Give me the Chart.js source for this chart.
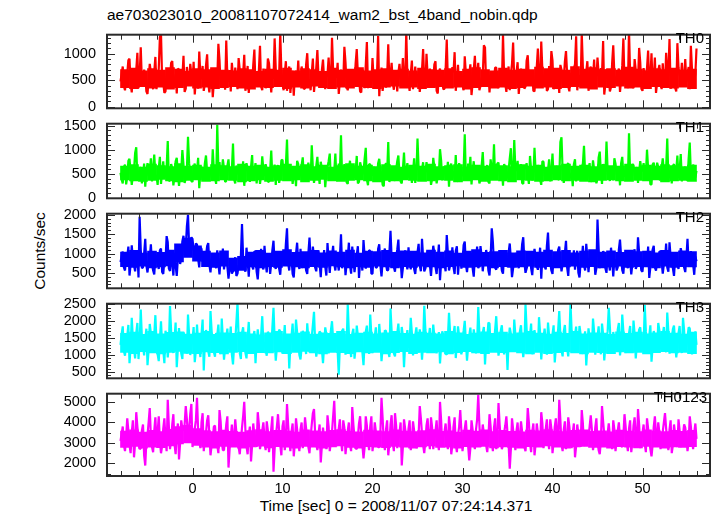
<!DOCTYPE html>
<html lang="en">
<head>
  <meta charset="UTF-8">
  <title>ae703023010 WAM2 light curve</title>
  <script src="https://cdn.jsdelivr.net/npm/chart.js"></script>
  <style>
    body { margin: 0; background: #fff; font-family: "Liberation Sans", Arial, sans-serif; color: #000; }
    #wrap { position: relative; width: 717px; height: 516px; overflow: hidden; }
    canvas { position: absolute; left: 0; }
    .txt { position: absolute; font-size: 15.5px; line-height: 18px; white-space: nowrap; }
    .band { text-align: right; font-size: 15px; }
  </style>
</head>
<body>
  <div id="wrap">
    <div class="txt" style="left:107px; top:6px;">ae703023010_20081107072414_wam2_bst_4band_nobin.qdp</div>
    <div class="txt" style="left:40px; top:251px; transform: translate(-50%, -50%) rotate(-90deg);">Counts/sec</div>
    <div class="txt" style="left:396px; top:497px; transform: translateX(-50%);">Time [sec] 0 = 2008/11/07 07:24:14.371</div>
  </div>

  <script>
    // time of first bin and bin width (s)
    const T0 = -8;
    const DT = 0.125;
    // 1 s bins for the dense core of each band (centre of first bin)
    const TB0 = -7.5;
    const TBW = 1;

    const bands = ['TH0', 'TH1', 'TH2', 'TH3', 'TH0123'];
    const colors = ['#ff0000', '#00ff00', '#0000ff', '#00ffff', '#ff00ff'];

    const th0 = [
      480,620,760,390,310,550,620,880,905,430,270,640,540,350,690,1020,
      350,580,1120,460,420,700,580,290,240,510,810,650,470,330,660,940,
      330,560,720,1310,1380,520,450,260,290,680,610,400,530,830,860,470,
      380,610,250,720,700,390,490,560,960,280,340,750,570,450,810,620,
      410,850,230,500,650,340,1040,590,520,770,300,430,780,990,440,270,
      600,720,180,460,730,560,510,1190,880,410,360,640,620,320,1250,540,
      470,690,290,830,560,380,740,510,330,920,690,440,420,610,980,300,
      510,770,260,530,640,390,790,1080,380,470,550,690,1150,380,310,720,
      600,350,450,910,820,540,270,620,530,1290,710,430,390,580,1400,660,
      480,310,620,860,300,540,760,260,520,680,210,590,680,470,870,400,
      440,760,590,330,350,800,1010,520,490,310,640,910,280,540,730,1070,
      560,360,420,690,890,500,330,560,610,930,500,440,1300,690,370,580,
      550,830,240,470,700,610,460,1130,840,380,310,590,590,410,680,490,
      400,820,1090,610,520,290,270,700,650,350,780,1220,350,660,570,420,
      920,510,430,640,610,1340,200,560,740,300,500,690,360,570,1180,460,
      580,830,450,320,670,580,290,640,810,510,520,920,390,470,1420,590,
      470,300,620,870,330,510,760,430,540,650,280,470,690,1090,450,360,
      1000,580,380,720,600,360,510,800,860,300,250,650,720,540,480,330,
      340,700,1270,480,560,360,410,750,650,1030,300,520,790,390,530,640,
      440,310,950,620,370,500,610,800,220,440,700,960,500,590,830,310,
      390,540,580,1160,1120,430,460,670,270,580,640,390,520,740,740,460,
      350,690,600,410,1360,570,430,280,560,760,310,620,810,1210,490,380,
      660,840,240,500,720,610,530,340,380,870,970,540,450,690,600,300,
      290,650,750,1100,510,410,1230,690,400,520,680,300,330,770,560,1050,
      870,330,450,640,610,560,260,790,700,420,520,850,1050,610,380,290,
      640,510,470,720,800,1330,310,560,590,400,1390,740,420,510,660,860,
      300,590,760,420,540,890,410,510,930,620,480,730,620,1240,230,420,
      710,560,560,290,370,820,1160,600,500,430,650,720,280,510,780,1290,
      440,690,600,350,1440,620,520,410,350,900,690,480,470,1110,840,340,
      300,730,580,620,730,1060,410,540,1010,380,540,930,260,450,680,790,
      500,330,820,480,370,1020,620,650,1280,340,450,630,560,360,290,1200,
      740,590,520,830,410,560,900,460,600,750,330,1150,700,410,480,620,
      1100
    ];
    const th1 = [
      520,380,300,640,690,280,430,770,810,520,270,460,580,930,1050,410,
      380,590,640,300,470,710,230,560,720,450,550,820,340,620,900,470,
      460,270,610,850,290,530,760,410,500,640,1180,350,360,700,620,260,
      440,760,830,510,250,470,570,990,680,310,400,580,1270,720,490,350,
      330,620,710,430,540,830,200,510,650,380,470,720,880,540,360,610,
      590,420,1010,560,420,290,1520,610,740,450,520,800,610,330,350,660,
      800,470,460,590,1130,380,300,670,570,480,690,350,410,760,250,510,
      720,600,480,330,640,890,370,560,720,300,540,650,290,470,860,590,
      450,700,600,340,330,560,980,410,510,690,270,620,680,310,430,780,
      790,450,560,680,1210,400,380,610,620,290,470,560,240,770,700,420,
      530,680,840,400,360,520,590,730,440,380,1090,620,310,470,660,850,
      500,290,750,600,400,640,220,500,630,760,920,370,470,550,560,920,
      350,470,710,560,1300,410,480,700,600,320,290,610,770,450,520,680,
      410,560,870,300,330,740,640,490,550,810,1040,380,260,700,690,520,
      460,640,580,350,380,720,810,560,510,270,240,660,720,510,1160,330,
      430,600,610,470,350,590,760,880,490,340,300,590,940,460,570,720,
      420,530,670,310,530,820,310,490,1230,620,460,370,590,740,380,520,
      740,560,500,680,270,390,830,640,610,300,440,500,1010,780,360,610,
      650,420,480,750,230,660,710,510,560,400,890,370,340,720,620,460,
      470,580,1320,390,390,710,540,850,280,560,760,420,510,640,600,300,
      370,660,950,470,450,610,680,330,300,800,590,520,1110,380,420,710,
      730,460,520,600,250,700,640,390,480,580,820,1030,350,510,1200,600,
      560,770,410,520,700,310,290,650,610,720,480,290,870,590,360,460,
      1040,530,530,680,630,380,270,760,750,450,460,610,580,800,340,560,
      920,400,500,610,660,370,400,1160,1260,550,310,480,570,680,720,410,
      450,520,240,700,800,340,540,620,380,580,640,710,1080,510,470,380,
      610,720,330,460,780,590,520,300,420,840,960,520,290,700,650,480,
      1170,570,480,350,560,640,360,820,710,480,500,600,260,720,850,470,
      440,610,590,370,1340,500,370,690,680,460,510,640,310,540,760,590,
      550,720,420,480,1000,610,600,280,280,690,730,520,490,730,640,380,
      380,620,820,550,530,610,1230,410,450,580,300,660,700,520,570,880,
      410,590,910,340,520,610,640,470,350,810,1150,490,480,690,600,420,
      560
    ];
    const th2 = [
      780,920,1050,640,560,870,920,1180,430,710,1210,850,690,540,850,1020,
      380,1950,1100,620,640,1000,1380,690,510,780,890,1240,720,560,460,910,
      960,740,600,1080,1130,520,470,820,810,1450,1290,610,550,980,740,430,
      1020,690,420,870,1180,730,870,1320,1460,950,1150,1700,2000,1180,1250,1420,
      1380,1090,980,1260,1230,860,640,1150,1120,780,860,1010,940,1190,1270,700,
      510,860,830,980,700,620,1080,740,460,880,760,1130,590,820,1010,660,
      350,620,720,480,540,800,900,420,480,700,620,940,1760,890,650,530,
      1150,820,400,960,770,680,590,1060,1040,530,330,760,860,1120,690,590,
      1200,760,510,980,930,470,740,1090,1330,720,600,950,820,610,450,880,
      1060,730,700,1250,1650,760,560,990,880,470,380,840,990,1280,760,600,
      1120,690,630,970,850,560,470,1010,1410,820,700,1180,920,640,540,880,
      1080,740,390,910,800,1090,660,430,1270,820,500,890,940,1200,730,560,
      1030,800,560,910,1500,620,780,1000,440,740,890,1280,690,480,1180,870,
      520,770,960,1190,370,830,820,560,1350,930,610,800,740,1090,1060,480,
      480,1010,870,630,650,1120,1240,700,410,790,990,1130,720,560,580,1010,
      1590,870,800,650,530,920,1100,1360,680,840,360,620,910,1080,760,590,
      1160,810,590,1040,840,600,470,780,1030,1250,690,540,1380,880,540,610,
      760,1060,920,700,420,830,1200,1000,650,470,870,1230,310,760,990,880,
      720,540,1480,1010,560,690,830,1160,640,470,1070,1190,450,820,900,610,
      760,1220,1310,720,520,790,690,880,1010,620,400,920,860,1180,620,700,
      1190,930,540,820,780,1090,950,560,430,910,1650,1300,700,630,580,850,
      1040,770,820,560,480,1010,910,700,660,1020,1260,850,390,620,770,980,
      1000,730,620,880,850,1240,1420,780,500,610,730,1020,960,620,440,860,
      1120,930,680,580,800,1150,350,920,1030,660,590,1200,1540,870,750,560,
      470,930,890,660,660,1090,1180,830,540,720,810,1010,1330,640,420,940,
      960,700,710,1080,580,910,1070,500,380,760,850,1200,690,560,1250,910,
      520,860,940,700,760,1030,450,620,1880,1130,620,880,870,1060,1010,620,
      500,980,740,560,1150,860,410,840,820,560,650,1110,1360,920,570,480,
      880,1050,700,620,1090,830,460,720,930,1110,600,680,1420,1020,790,560,
      530,880,1020,760,680,1180,370,650,900,1100,1200,640,560,790,770,1050,
      1050,780,480,720,840,1260,640,530,1290,910,710,620,420,860,990,720,
      600,830,1140,990,760,640,520,880,1380,720,680,1060,890,720,450,920,
      800
    ];
    const th3 = [
      1300,1620,1850,1120,980,1400,1560,1890,760,1240,2100,1470,1180,900,1640,1950,
      880,1350,2350,1530,1260,990,1470,1780,700,1150,1920,1640,1090,1380,1600,2180,
      1380,1020,820,1460,2000,1280,1150,760,1720,1480,930,1320,2450,1710,1240,1060,
      1510,1960,640,1180,1800,1400,1050,880,1680,1550,1330,1040,2200,1590,1000,1270,
      1460,1830,790,1140,1900,1350,1210,940,1620,2050,540,1360,1740,1520,1120,950,
      2300,1710,1380,1090,950,1650,1590,1900,1280,1030,2080,1460,860,1220,1500,1780,
      1180,1440,1840,1020,720,1290,1430,1970,2550,1530,1060,880,1650,1820,1300,1070,
      900,1510,1980,1260,1250,1080,1540,1710,760,1380,1760,1430,1120,1600,2150,1340,
      1370,1150,980,1690,1610,1260,1200,1820,2400,1490,830,1210,1480,1750,1700,1230,
      1040,1450,1890,1150,1310,1570,600,1290,1560,1930,1150,1340,2050,1670,1400,1000,
      870,1220,1720,1560,1260,1030,1940,1470,1080,1330,1530,1890,2280,1400,950,1160,
      1420,1700,1650,1180,760,1280,1820,1600,1230,1050,1470,1720,2000,1460,1100,1380,
      1590,1130,420,1290,1340,1720,1780,1430,1010,1290,2500,1650,1250,940,1630,1780,
      890,1210,1870,1570,1160,1300,1440,1090,700,1380,1690,1870,1320,1030,2200,1560,
      1060,1300,1550,1820,1230,1110,1920,1480,820,1200,1400,1730,1710,1350,1120,940,
      2380,1710,1290,1050,960,1420,1640,1930,1370,1180,1830,1560,640,1280,1480,1740,
      1210,1430,2100,1660,990,1250,1590,1820,1350,1070,1760,1480,860,1360,2460,1750,
      1280,1130,1520,1800,1070,1370,1900,1540,1190,1050,1440,1680,750,1260,1700,1590,
      1380,1040,1010,1520,2250,1640,1270,1100,1630,1860,910,1310,1850,1570,1200,1020,
      1480,1720,2010,1390,830,1230,1570,1810,1330,1100,1760,1500,1050,1380,2420,1660,
      1290,1080,1660,1830,720,1350,1500,1960,1930,1270,1140,1400,1400,1750,2150,1500,
      980,1190,1720,1880,1240,1020,1560,1390,560,1420,1810,1630,1360,1110,2050,1600,
      1110,1350,1450,1700,1880,1310,940,1220,2500,1760,1310,1050,1590,1930,1020,1300,
      1740,1490,1260,1150,2120,1650,870,1290,1520,1780,1390,1010,1960,1570,1180,1260,
      1620,1880,780,1210,1430,1750,2300,1560,1150,960,1700,1890,1330,1200,960,1490,
      2550,1720,1270,1080,1580,1840,1060,1320,1860,1620,1220,1030,1490,1700,690,1250,
      1790,1500,1350,1140,2080,1690,1010,1290,1540,1850,1290,1020,1930,1610,840,1240,
      1470,1700,2400,1830,1160,1040,1680,1490,1300,1110,1760,1950,990,1280,2200,1700,
      1400,1130,1070,1510,1640,1860,1240,1080,2020,1610,900,1300,1510,1750,1820,1410,
      1130,1290,2480,1700,1360,1100,1570,1880,800,1230,1710,1520,1280,1150,1950,1730,
      1170,1430,1600,1830,1340,1080,2260,1690,1040,1310,1490,1770,1870,1360,930,1210,
      1650,1860,1250,1060,2100,1720,1110,1280,1530,1820,1790,1380,1020,1230,1460,1700,
      1300
    ];
    const th0123 = [
      3100,3450,3800,2900,2600,3300,4200,3600,2900,2500,3500,4100,2300,3000,4500,3800,
      3200,2700,2750,3600,3900,2400,1900,3100,3400,4000,4700,3300,2800,2550,3600,4250,
      3000,3500,4300,3100,2500,2850,3700,4200,3200,2600,5100,3800,2700,3150,3900,4400,
      2950,2450,3450,3950,2200,3000,4100,3700,3600,3900,4800,4150,3300,3650,4400,4900,
      2800,3300,3700,4100,5200,3600,3100,2750,4000,4450,2600,3200,3500,4100,4350,3400,
      2400,2900,3250,3800,3850,3100,2900,2500,4600,4050,3050,2650,2650,3300,3900,4300,
      1800,2700,3300,3900,2950,3300,4150,3500,3500,2800,2450,3100,3750,4300,5000,3650,
      2850,2450,3400,3800,2100,2900,3950,3400,3150,2800,4500,3900,2700,3050,3600,4000,
      3250,2650,4050,3600,2550,3000,3700,4300,1600,2700,3350,3800,4400,3600,2900,2400,
      3800,4100,2650,3200,4900,3900,3100,2600,3550,3950,2350,3000,4200,3650,3000,2600,
      3650,4000,2750,3100,4250,3700,3200,2800,2500,3300,3900,4450,4650,3500,2950,2650,
      3450,3900,2050,2850,3750,3250,3300,2700,4350,3800,2600,3050,3550,4300,5050,3500,
      2850,3350,3700,4150,3150,2600,4100,3750,2450,3000,3600,4000,2900,2600,4750,3900,
      3250,2750,2700,3300,3950,4300,3400,2900,2250,2800,4300,3850,3050,2650,3800,4300,
      2600,3100,4000,3550,3350,2800,2800,3500,5200,4200,3100,2650,3650,4100,2400,2950,
      3900,4350,3000,2600,4450,3850,2750,3200,3500,4000,1900,2800,4150,3700,3300,2900,
      3700,4100,2650,3050,4050,3600,3150,2750,2900,3400,4800,4200,3450,2900,2500,3100,
      3850,4200,3200,2700,4250,3750,2700,3150,3600,4100,3050,2650,5000,4100,2850,3300,
      3550,3950,3100,2700,4300,3750,2450,2900,3800,4250,2950,2550,3350,3800,4600,3600,
      2600,3100,3700,4100,3250,2850,2150,2750,4100,3650,3000,2700,3650,4150,5350,3900,
      2800,3200,3900,3450,3300,2900,2550,3200,4400,3800,3050,2600,3750,4200,2700,3150,
      4950,3900,3200,2700,2900,3500,3850,4300,3450,2900,1750,2700,4200,3650,3100,2650,
      3600,4000,2850,3300,4050,3550,3350,2800,2600,3350,4700,4000,3000,2550,3550,3950,
      2400,2950,3950,3500,3250,2850,4500,3950,2750,3150,3700,4150,3150,2700,4150,3700,
      2500,3050,3800,4200,3400,2850,5100,4100,2950,2600,3650,4050,2700,3150,4250,3800,
      3100,2750,3500,3950,2300,2850,3900,3450,3200,2800,4600,3950,2850,3300,3550,3100,
      3300,3800,4350,3650,2650,3050,3750,4200,3050,2650,2450,3100,4800,4050,3400,2850,
      2900,3450,3950,3350,3150,2700,4100,3650,2600,3100,3600,4000,3250,2850,2800,3350,
      4400,3800,3000,2600,3700,4100,2550,3000,3850,4250,3350,2850,4650,3900,2750,3200,
      3500,3900,2950,2550,4200,3700,3100,2700,2350,2900,3800,4300,3450,3000,4000,3500,
      2700,3150,3550,4000,4450,3700,3050,2650,3650,4100,2500,2900,3900,3450,3200,2800,
      4150,3600,2800,3250,3400,3900,3750,3300,2600,3050,4300,3800,3100,2700,3500,3950,
      3200
    ];
    const series = [th0, th1, th2, th3, th0123];

    // solid core of each band, read per 1 s bin (lower / upper edge)
    const core0Lo = [
      360,340,380,350,370,330,360,390,350,370,340,360,380,350,330,370,
      360,380,340,370,350,390,360,340,370,350,380,360,340,370,390,350,
      370,340,360,380,350,370,330,360,380,350,370,340,360,390,350,370,
      340,360,380,350,330,370,360,390,350,370,340,380,360,350,370,340
    ];
    const core0Hi = [
      700,730,680,720,690,740,710,670,720,700,740,690,680,720,700,670,
      710,690,730,680,720,700,670,730,690,710,740,680,700,720,690,710,
      680,730,700,690,720,670,710,740,700,680,730,690,710,700,750,720,
      730,690,760,710,740,700,720,690,750,710,680,720,700,730,690,710
    ];
    const core1Lo = [
      370,350,340,360,380,350,330,360,370,340,350,370,360,330,350,370,
      340,360,350,370,330,360,380,350,340,360,370,350,330,360,350,370,
      360,340,350,370,360,330,350,370,340,360,350,330,370,360,340,350,
      370,350,360,340,330,360,370,350,340,360,350,370,330,350,360,340
    ];
    const core1Hi = [
      660,690,640,700,670,650,710,660,680,640,690,670,650,700,660,680,
      640,670,700,660,690,650,680,640,670,710,660,680,650,690,670,640,
      680,660,700,650,670,690,640,680,660,700,670,650,690,660,680,640,
      670,700,660,680,650,690,670,660,700,640,680,660,690,670,650,680
    ];
    const core2Lo = [
      660,640,670,630,650,680,780,900,800,660,640,670,540,560,650,630,
      660,640,670,650,630,660,640,680,650,630,660,640,670,650,630,660,
      640,670,650,630,660,680,640,650,670,630,660,640,650,670,640,660,
      630,650,670,640,660,630,650,670,640,660,650,630,670,640,660,650
    ];
    const core2Hi = [
      1040,1080,1010,1060,1030,1090,1250,1400,1200,1060,1020,1070,880,930,1040,1080,
      1010,1060,1100,1030,1050,1080,1020,1070,1040,1090,1010,1060,1050,1080,1030,1070,
      1060,1020,1090,1040,1070,1010,1060,1100,1030,1050,1080,1020,1070,1060,1040,1090,
      1050,1080,1020,1060,1100,1040,1070,1030,1090,1050,1060,1020,1080,1040,1070,1050
    ];
    const core3Lo = [
      1080,1040,1100,1060,1030,1080,1110,1050,1040,1090,1070,1030,1080,1100,1040,1070,
      1060,1090,1040,1080,1110,1060,1030,1080,1070,1040,1090,1060,1080,1030,1070,1100,
      1040,1080,1060,1090,1030,1070,1100,1060,1040,1080,1070,1090,1060,1030,1080,1040,
      1070,1100,1060,1030,1080,1070,1040,1090,1060,1080,1030,1070,1100,1060,1080,1040
    ];
    const core3Hi = [
      1640,1680,1610,1700,1630,1670,1690,1620,1650,1700,1610,1660,1640,1680,1630,1600,
      1660,1700,1630,1650,1690,1620,1660,1640,1700,1610,1650,1680,1630,1660,1700,1640,
      1620,1680,1650,1630,1700,1660,1610,1650,1690,1640,1680,1630,1660,1700,1650,1620,
      1680,1640,1700,1630,1660,1650,1610,1690,1640,1680,1630,1660,1700,1650,1620,1680
    ];
    const core4Lo = [
      2780,2830,2740,2800,2770,2850,2950,3000,2880,2800,2750,2830,2790,2740,2810,2840,
      2760,2820,2790,2740,2830,2800,2750,2810,2850,2780,2740,2820,2800,2770,2830,2790,
      2750,2810,2850,2780,2800,2740,2820,2790,2830,2760,2810,2780,2740,2820,2800,2850,
      2790,2750,2810,2830,2780,2800,2740,2820,2790,2760,2830,2800,2750,2810,2780,2820
    ];
    const core4Hi = [
      3580,3640,3530,3610,3560,3660,3800,3860,3700,3600,3550,3630,3570,3530,3600,3650,
      3560,3620,3580,3530,3640,3590,3550,3610,3650,3570,3540,3630,3590,3560,3640,3580,
      3550,3600,3650,3570,3590,3530,3630,3580,3640,3560,3610,3570,3540,3630,3590,3650,
      3580,3550,3610,3640,3570,3590,3540,3630,3580,3560,3640,3590,3550,3610,3570,3620
    ];
    const coreLo = [core0Lo, core1Lo, core2Lo, core3Lo, core4Lo];
    const coreHi = [core0Hi, core1Hi, core2Hi, core3Hi, core4Hi];

    // axes
    const xTicks = [0, 10, 20, 30, 40, 50];
    const yMin = [-30, -10, 100, 310, 1390];
    const yMax = [1360, 1540, 2030, 2520, 5400];
    const yTicks = [
      [0, 500, 1000],
      [0, 500, 1000, 1500],
      [500, 1000, 1500, 2000],
      [500, 1000, 1500, 2000, 2500],
      [2000, 3000, 4000, 5000]
    ];
    const yMinor = [100, 100, 100, 100, 500];

    const panelTop = [27, 116, 206, 296, 386];
    const panelH = [89, 90, 90, 90, 90];
    const PAD = 12;

    Chart.defaults.font.family = '"Liberation Sans", Arial, sans-serif';
    Chart.defaults.font.size = 14.5;
    Chart.defaults.color = '#000';

    // frame + inward tick marks like qdp
    const panelFrame = {
      id: 'panelFrame',
      afterDatasetsDraw(chart, args, opts) {
        const { ctx, chartArea: a, scales: { x, y } } = chart;
        ctx.save();
        ctx.strokeStyle = '#2a2a2a';
        ctx.lineWidth = 1;
        ctx.beginPath();
        for (let t = -8; t <= 56; t += 2) {
          const px = Math.round(x.getPixelForValue(t)) + 0.5;
          const len = t % 10 === 0 ? 8 : 5;
          ctx.moveTo(px, a.top); ctx.lineTo(px, a.top + len);
          ctx.moveTo(px, a.bottom); ctx.lineTo(px, a.bottom - len);
        }
        for (let v = Math.ceil(y.min / opts.minor) * opts.minor; v <= y.max; v += opts.minor) {
          const py = Math.round(y.getPixelForValue(v)) + 0.5;
          const len = opts.major.includes(v) ? 8 : 4;
          ctx.moveTo(a.left, py); ctx.lineTo(a.left + len, py);
          ctx.moveTo(a.right, py); ctx.lineTo(a.right - len, py);
        }
        ctx.stroke();
        ctx.lineWidth = 2;
        ctx.strokeRect(a.left, a.top, a.right - a.left, a.bottom - a.top);
        ctx.restore();
      }
    };

    const wrap = document.getElementById('wrap');

    series.forEach((vals, k) => {
      const last = k === series.length - 1;
      const cv = document.createElement('canvas');
      cv.width = 717;
      cv.height = panelH[k] + PAD + (last ? 40 : PAD);
      cv.style.top = (panelTop[k] - PAD) + 'px';
      wrap.appendChild(cv);

      const lab = document.createElement('div');
      lab.className = 'txt band';
      lab.textContent = bands[k];
      lab.style.top = (panelTop[k] + 2) + 'px';
      lab.style.right = (last ? 10 : 13) + 'px';
      wrap.appendChild(lab);

      new Chart(cv, {
        type: 'line',
        data: {
          datasets: [{
            label: bands[k],
            data: vals.map((v, i) => ({ x: T0 + i * DT, y: v })),
            borderColor: colors[k],
            borderWidth: 2.2,
            borderJoinStyle: 'bevel',
            pointRadius: 0,
            tension: 0,
            fill: false,
            order: 1
          }, {
            type: 'bar',
            label: bands[k] + ' core',
            data: coreLo[k].map((lo, j) => ({ x: TB0 + j * TBW, y: [lo, coreHi[k][j]] })),
            backgroundColor: colors[k],
            borderWidth: 0,
            barPercentage: 1,
            categoryPercentage: 1,
            order: 2
          }]
        },
        options: {
          responsive: false,
          animation: false,
          events: [],
          layout: { padding: { top: PAD, bottom: last ? 0 : PAD, left: 0, right: 7 } },
          plugins: {
            legend: { display: false },
            tooltip: { enabled: false },
            panelFrame: { major: yTicks[k], minor: yMinor[k] }
          },
          scales: {
            x: {
              type: 'linear',
              min: -9.5,
              max: 57.5,
              offset: false,
              display: last,
              grid: { display: false, drawTicks: false },
              border: { display: false },
              afterBuildTicks: s => { s.ticks = xTicks.map(v => ({ value: v })); },
              afterFit: s => { s.height = last ? 40 : 0; },
              ticks: { padding: 4, maxRotation: 0, autoSkip: false, callback: v => String(v) }
            },
            y: {
              type: 'linear',
              min: yMin[k],
              max: yMax[k],
              grid: { display: false, drawTicks: false },
              border: { display: false },
              afterBuildTicks: s => { s.ticks = yTicks[k].map(v => ({ value: v })); },
              afterFit: s => { s.width = 107; },
              ticks: { padding: 11, autoSkip: false, callback: v => String(v) }
            }
          }
        },
        plugins: [panelFrame]
      });
    });
  </script>
</body>
</html>
